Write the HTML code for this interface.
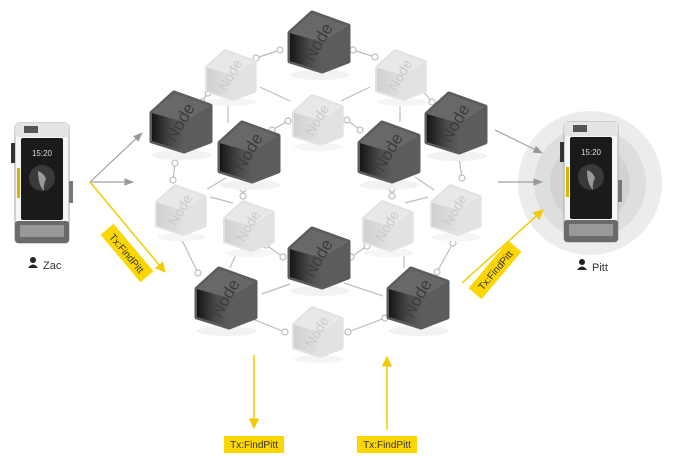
<!DOCTYPE html>
<html><head><meta charset="utf-8"><style>
body{margin:0;background:#fff;width:680px;height:462px;overflow:hidden;font-family:"Liberation Sans",sans-serif}
</style></head><body>
<svg width="680" height="462" viewBox="0 0 680 462" xmlns="http://www.w3.org/2000/svg">
<defs>
<linearGradient id="dl" x1="0" x2="1"><stop offset="0" stop-color="#151515"/><stop offset="0.6" stop-color="#4a4a4a"/><stop offset="1" stop-color="#5c5c5c"/></linearGradient>
<linearGradient id="ll" x1="0" x2="1"><stop offset="0" stop-color="#d0d0d0"/><stop offset="1" stop-color="#e2e2e2"/></linearGradient>
<marker id="ag" viewBox="0 0 10 10" refX="9" refY="5" markerWidth="8" markerHeight="8" orient="auto"><path d="M0,1 L10,5 L0,9z" fill="#999"/></marker>
<marker id="ay" viewBox="0 0 10 10" refX="9" refY="5" markerWidth="7" markerHeight="7" orient="auto"><path d="M0,0 L10,5 L0,10z" fill="#f2cc00"/></marker>
<g id="dc">
<ellipse cx="2" cy="33" rx="30" ry="5" fill="#f2f2f2"/>
<path d="M-28,-9 L-6,-29 L30,-16 L30,19 L4,29 L-28,19z" fill="#5c5c5c" stroke="#5c5c5c" stroke-width="5" stroke-linejoin="round"/>
<path d="M-28,-9 L4,0 L4,29 L-28,19z" fill="url(#dl)"/>
<path d="M-28,-9 L-6,-29 L30,-16 L4,0z" fill="#686868"/>
<text transform="rotate(-60)" x="0" y="6" text-anchor="middle" font-size="17" fill="#3c3c3c">Node</text>
</g>
<g id="lc">
<ellipse cx="2" cy="33" rx="30" ry="5" fill="#f5f5f5"/>
<path d="M-28,-9 L-6,-29 L30,-16 L30,19 L4,29 L-28,19z" fill="#e2e2e2" stroke="#e2e2e2" stroke-width="5" stroke-linejoin="round"/>
<path d="M-28,-9 L4,0 L4,29 L-28,19z" fill="url(#ll)"/>
<path d="M-28,-9 L-6,-29 L30,-16 L4,0z" fill="#e8e8e8"/>
<text transform="rotate(-60)" x="0" y="6" text-anchor="middle" font-size="17" fill="#cacaca">Node</text>
</g>
<g id="ph">
<rect x="-27" y="-60" width="54" height="120" rx="4" fill="#f6f6f6" stroke="#aaa"/>
<rect x="-27" y="-60" width="54" height="14" rx="3" fill="#e4e4e4"/>
<rect x="-18" y="-57" width="14" height="7" fill="#555"/>
<rect x="-21" y="-45" width="42" height="82" rx="2" fill="#1a1a1a"/>
<text x="0" y="-27" text-anchor="middle" font-size="8" fill="#ddd">15:20</text>
<circle cx="0" cy="-5" r="13" fill="#3a3a3a"/>
<path d="M-4,-12 q6,2 8,8 q-3,6 -2,12 q-6,-6 -6,-20z" fill="#999"/>
<rect x="-27" y="38" width="54" height="22" rx="3" fill="#6a6a6a"/>
<rect x="-22" y="42" width="44" height="12" fill="#999"/>
<rect x="-31" y="-40" width="4" height="20" fill="#333"/>
<rect x="27" y="-2" width="4" height="22" fill="#777"/>
<rect x="-25" y="-15" width="3" height="30" fill="#d9b400"/>
</g>
</defs>

<circle cx="590" cy="183" r="72" fill="#ececec"/>
<circle cx="590" cy="183" r="56" fill="#dedede"/>
<circle cx="590" cy="183" r="40" fill="#d2d2d2"/>

<g stroke="#bdbdbd" stroke-width="1.2" fill="#fff">
<line x1="256" y1="58" x2="280" y2="50"/><line x1="353" y1="50" x2="375" y2="57"/>
<line x1="202" y1="102" x2="208" y2="93"/>
<line x1="228" y1="103" x2="228" y2="123"/>
<line x1="260" y1="87" x2="290" y2="101"/><line x1="341" y1="101" x2="370" y2="87"/>
<line x1="272" y1="130" x2="288" y2="121"/><line x1="347" y1="120" x2="360" y2="130"/>
<line x1="422" y1="90" x2="432" y2="102"/>
<line x1="400" y1="103" x2="400" y2="122"/>
<line x1="175" y1="163" x2="173" y2="180"/>
<line x1="207" y1="189" x2="226" y2="178"/><line x1="210" y1="197" x2="233" y2="203"/>
<line x1="181" y1="238" x2="198" y2="273"/>
<line x1="230" y1="268" x2="237" y2="252"/>
<line x1="266" y1="245" x2="283" y2="257"/><line x1="351" y1="257" x2="367" y2="246"/>
<line x1="404" y1="249" x2="404" y2="268"/>
<line x1="453" y1="243" x2="437" y2="272"/>
<line x1="262" y1="294" x2="290" y2="284"/><line x1="344" y1="283" x2="383" y2="296"/>
<line x1="250" y1="318" x2="285" y2="332"/><line x1="348" y1="332" x2="385" y2="318"/>
<line x1="405" y1="203" x2="428" y2="197"/><line x1="415" y1="177" x2="434" y2="190"/>
<line x1="459" y1="158" x2="462" y2="178"/>
<circle cx="256" cy="58" r="3"/><circle cx="280" cy="50" r="3"/><circle cx="353" cy="50" r="3"/><circle cx="375" cy="57" r="3"/>
<circle cx="202" cy="102" r="3"/><circle cx="208" cy="93" r="3"/>
<circle cx="272" cy="130" r="3"/><circle cx="288" cy="121" r="3"/><circle cx="347" cy="120" r="3"/><circle cx="360" cy="130" r="3"/>
<circle cx="422" cy="90" r="3"/><circle cx="432" cy="102" r="3"/>
<circle cx="175" cy="163" r="3"/><circle cx="173" cy="180" r="3"/>
<circle cx="243" cy="189" r="3"/><circle cx="243" cy="196" r="3"/><circle cx="392" cy="189" r="3"/><circle cx="392" cy="196" r="3"/>
<circle cx="181" cy="238" r="3"/><circle cx="198" cy="273" r="3"/>
<circle cx="266" cy="245" r="3"/><circle cx="283" cy="257" r="3"/><circle cx="351" cy="257" r="3"/><circle cx="367" cy="246" r="3"/>
<circle cx="453" cy="243" r="3"/><circle cx="437" cy="272" r="3"/>
<circle cx="250" cy="318" r="3"/><circle cx="285" cy="332" r="3"/><circle cx="348" cy="332" r="3"/><circle cx="385" cy="318" r="3"/>
<circle cx="459" cy="158" r="3"/><circle cx="462" cy="178" r="3"/>
</g>

<use href="#lc" transform="translate(230,75) scale(0.82)"/>
<use href="#lc" transform="translate(400,75) scale(0.82)"/>
<use href="#lc" transform="translate(317,120) scale(0.82)"/>
<use href="#lc" transform="translate(180,210) scale(0.82)"/>
<use href="#lc" transform="translate(248,226) scale(0.82)"/>
<use href="#lc" transform="translate(387,226) scale(0.82)"/>
<use href="#lc" transform="translate(455,210) scale(0.82)"/>
<use href="#lc" transform="translate(317,332) scale(0.82)"/>
<use href="#dc" transform="translate(318,42)"/>
<use href="#dc" transform="translate(180,122)"/>
<use href="#dc" transform="translate(455,123)"/>
<use href="#dc" transform="translate(248,152)"/>
<use href="#dc" transform="translate(388,152)"/>
<use href="#dc" transform="translate(318,258)"/>
<use href="#dc" transform="translate(225,298)"/>
<use href="#dc" transform="translate(417,298)"/>

<g stroke="#a0a0a0" stroke-width="1.2" fill="none">
<line x1="90" y1="182" x2="142" y2="133" marker-end="url(#ag)"/>
<line x1="90" y1="182" x2="133" y2="182" marker-end="url(#ag)"/>
<line x1="495" y1="130" x2="542" y2="153" marker-end="url(#ag)"/>
<line x1="498" y1="182" x2="542" y2="182" marker-end="url(#ag)"/>
</g>
<g stroke="#f2cc00" stroke-width="1.5" fill="none">
<line x1="90" y1="182" x2="165" y2="272" marker-end="url(#ay)"/>
<line x1="462" y1="283" x2="543" y2="210" marker-end="url(#ay)"/>
<line x1="254" y1="355" x2="254" y2="428" marker-end="url(#ay)"/>
<line x1="387" y1="430" x2="387" y2="357" marker-end="url(#ay)"/>
</g>

<g font-size="10" fill="#333" text-anchor="middle">
<g transform="translate(127,253) rotate(50)"><rect x="-31" y="-8.5" width="62" height="17" fill="#fcd600"/><text y="4">Tx:FindPitt</text></g>
<g transform="translate(495,270) rotate(-50)"><rect x="-31" y="-8.5" width="62" height="17" fill="#fcd600"/><text y="4">Tx:FindPitt</text></g>
<rect x="224" y="436" width="60" height="17" fill="#fcd600"/><text x="254" y="448">Tx:FindPitt</text>
<rect x="357" y="436" width="60" height="17" fill="#fcd600"/><text x="387" y="448">Tx:FindPitt</text>
</g>

<use href="#ph" transform="translate(42,183)"/>
<use href="#ph" transform="translate(591,182)"/>

<g fill="#222">
<circle cx="33" cy="260" r="3"/><path d="M28,268 q5,-7 10,0z"/>
<circle cx="582" cy="262" r="3"/><path d="M577,270 q5,-7 10,0z"/>
</g>
<text x="43" y="269" font-size="11" fill="#333">Zac</text>
<text x="592" y="271" font-size="11" fill="#333">Pitt</text>
</svg>
</body></html>
